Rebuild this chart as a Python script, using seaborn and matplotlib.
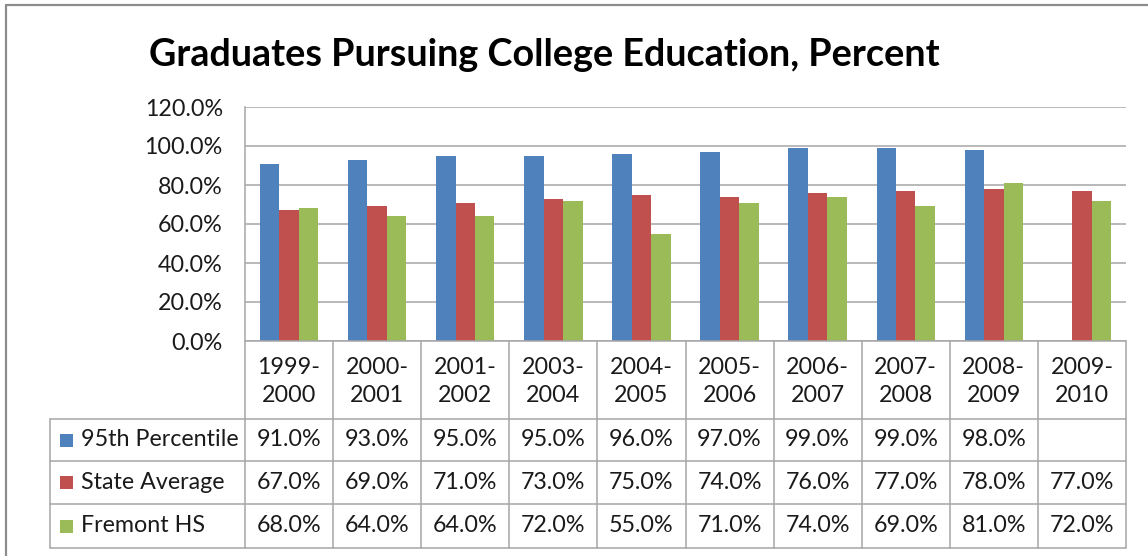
import numpy as np
import pandas as pd
import matplotlib
matplotlib.use("Agg")
import matplotlib.pyplot as plt
import matplotlib.transforms as mtransforms
from matplotlib.lines import Line2D
from matplotlib.patches import Rectangle
import seaborn as sns

# ---------------- data ----------------
categories = ["1999-2000", "2000-2001", "2001-2002", "2003-2004", "2004-2005",
              "2005-2006", "2006-2007", "2007-2008", "2008-2009", "2009-2010"]
series_names = ["95th Percentile", "State Average", "Fremont HS"]
p95 = [91.0, 93.0, 95.0, 95.0, 96.0, 97.0, 99.0, 99.0, 98.0, np.nan]
state_avg = [67.0, 69.0, 71.0, 73.0, 75.0, 74.0, 76.0, 77.0, 78.0, 77.0]
fremont = [68.0, 64.0, 64.0, 72.0, 55.0, 71.0, 74.0, 69.0, 81.0, 72.0]
yticks = [0, 20, 40, 60, 80, 100, 120]
title = "Graduates Pursuing College Education, Percent"

colors = ["#4F81BD", "#C0504D", "#9BBB59"]
series_values = [p95, state_avg, fremont]

# ---------------- figure ----------------
sns.set_theme(style="white")
plt.rcParams["font.family"] = ["Lato", "DejaVu Sans"]

W, H = 1148, 556
fig = plt.figure(figsize=(W / 100, H / 100), dpi=100)
fig.patch.set_facecolor("white")


def fx(x):
    return x / W


def fy(y):
    return 1 - y / H


renderer = fig.canvas.get_renderer()


def fit_size(text, target_px, weight="normal", base=20.0):
    t = fig.text(0, 0, text, fontsize=base, weight=weight)
    w = t.get_window_extent(renderer).width
    t.remove()
    return base * target_px / w


title_fs = fit_size(title, 792, weight="bold")
body_fs = fit_size("120.0%", 78)

TXT = "#1a1a1a"
GRID = "#a6a6a6"

# plot area
L, R, T, B = 245, 1126, 107, 341
ax = fig.add_axes([fx(L), fy(B), fx(R) - fx(L), fy(T) - fy(B)])

df = pd.DataFrame({
    "cat": np.tile(categories, len(series_names)),
    "series": np.repeat(series_names, len(categories)),
    "value": np.concatenate([np.asarray(v, dtype=float) for v in series_values]),
})
sns.barplot(data=df, x="cat", y="value", hue="series", order=categories,
            hue_order=series_names, palette=colors, saturation=1, width=0.664,
            gap=0, errorbar=None, linewidth=0, legend=False, ax=ax)

ax.set_xlim(-0.5, len(categories) - 0.5)
ax.set_ylim(0, 120)
ax.set_yticks(yticks)
ax.set_yticklabels([f"{v:.1f}%" for v in yticks], fontsize=body_fs, color=TXT)
ax.tick_params(axis="y", length=0, pad=16)
ax.set_xticks([])
ax.set_xlabel("")
ax.set_ylabel("")
ax.yaxis.grid(True, color=GRID, linewidth=1.1)
ax.set_axisbelow(True)
for s in ["top", "right", "bottom"]:
    ax.spines[s].set_visible(False)
ax.spines["left"].set_color(GRID)
ax.spines["left"].set_linewidth(1.1)

# title
fig.text(fx(544), fy(66), title, ha="center", va="baseline",
         fontsize=title_fs, weight="bold", color="black")

# ---------------- data table ----------------
blend = mtransforms.blended_transform_factory(ax.transData, fig.transFigure)
row_edges = [341, 419, 461, 504, 548]
tab_left = 50
xl = -0.5
xr = len(categories) - 0.5

def hline(y, x0_fig, x1_data):
    # from figure x (pixels) to data x on right
    x0_data = ax.transData.inverted().transform((x0_fig, 0))[0]
    fig.add_artist(Line2D([x0_data, x1_data], [fy(y), fy(y)], transform=blend,
                          color=GRID, linewidth=1.1))

fig.canvas.draw()
# header top line (axis line)
hline(row_edges[0], L, xr)
for y in row_edges[1:]:
    hline(y, tab_left, xr)
# vertical boundaries
for i in range(len(categories) + 1):
    xb = i - 0.5
    fig.add_artist(Line2D([xb, xb], [fy(row_edges[0]), fy(row_edges[-1])],
                          transform=blend, color=GRID, linewidth=1.1))
fig.add_artist(Line2D([fx(tab_left), fx(tab_left)], [fy(row_edges[1]), fy(row_edges[-1])],
                      transform=fig.transFigure, color=GRID, linewidth=1.1))

# header category labels (two lines)
for i, c in enumerate(categories):
    a, b = c.split("-")
    fig.text(i, fy(367), a + "-", transform=blend, ha="center", va="center",
             fontsize=body_fs, color=TXT)
    fig.text(i, fy(395), b, transform=blend, ha="center", va="center",
             fontsize=body_fs, color=TXT)

# rows
for r, (name, vals, col) in enumerate(zip(series_names, series_values, colors)):
    yc = (row_edges[r + 1] + row_edges[r + 2]) / 2
    sq = 13
    fig.add_artist(Rectangle((fx(60), fy(yc + sq / 2)), fx(sq), sq / H,
                             transform=fig.transFigure, facecolor=col, edgecolor="none"))
    fig.text(fx(81), fy(yc), name, ha="left", va="center", fontsize=body_fs, color=TXT)
    for i, v in enumerate(vals):
        if np.isnan(v):
            continue
        fig.text(i, fy(yc), f"{v:.1f}%", transform=blend, ha="center", va="center",
                 fontsize=body_fs, color=TXT)

# outer chart frame (left and top edges visible)
FRAME = "#8c8c8c"
fig.add_artist(Line2D([fx(6), fx(6)], [fy(5), fy(H)], transform=fig.transFigure,
                      color=FRAME, linewidth=1.6))
fig.add_artist(Line2D([fx(6), fx(W)], [fy(5), fy(5)], transform=fig.transFigure,
                      color=FRAME, linewidth=1.6))

fig.savefig("out.png", dpi=100, facecolor="white")
